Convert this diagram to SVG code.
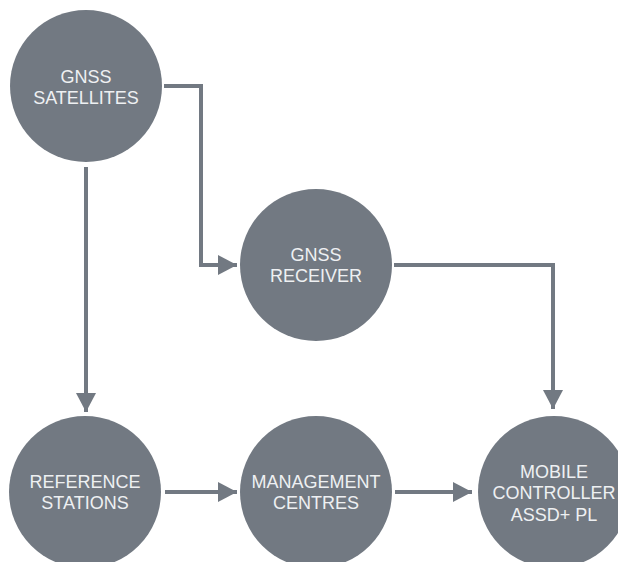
<svg xmlns="http://www.w3.org/2000/svg" width="618" height="562" viewBox="0 0 618 562">
<style>
.node{fill:#727982}
.lbl{fill:#eef0f2;font-family:"Liberation Sans",Arial,sans-serif;font-size:18px;text-anchor:middle}
.conn{fill:none;stroke:#727982;stroke-width:4;stroke-linejoin:miter}
</style>
<defs>
<marker id="arr" markerUnits="userSpaceOnUse" markerWidth="20" markerHeight="20" refX="19" refY="10" orient="auto" viewBox="0 0 20 20">
<path d="M0,0 L19,10 L0,20 z" fill="#727982"/>
</marker>
</defs>
<rect width="618" height="562" fill="#ffffff"/>
<g id="connectors">
<path class="conn" d="M164,86 H201 V265 H237" marker-end="url(#arr)"/>
<path class="conn" d="M86,167 V412" marker-end="url(#arr)"/>
<path class="conn" d="M394,265 H553 V409" marker-end="url(#arr)"/>
<path class="conn" d="M165,492 H237" marker-end="url(#arr)"/>
<path class="conn" d="M395,492 H472" marker-end="url(#arr)"/>
</g>
<g id="gnss-satellites">
<circle class="node" cx="86" cy="86" r="76"/>
<text class="lbl" x="86" y="83">GNSS</text>
<text class="lbl" x="86" y="104">SATELLITES</text>
</g>
<g id="gnss-receiver">
<circle class="node" cx="316" cy="265" r="76"/>
<text class="lbl" x="316" y="261">GNSS</text>
<text class="lbl" x="316" y="282">RECEIVER</text>
</g>
<g id="reference-stations">
<circle class="node" cx="85" cy="492" r="76"/>
<text class="lbl" x="85" y="488">REFERENCE</text>
<text class="lbl" x="85" y="509">STATIONS</text>
</g>
<g id="management-centres">
<circle class="node" cx="316" cy="492" r="76"/>
<text class="lbl" x="316" y="488">MANAGEMENT</text>
<text class="lbl" x="316" y="509">CENTRES</text>
</g>
<g id="mobile-controller">
<circle class="node" cx="554" cy="492" r="76"/>
<text class="lbl" x="554" y="478">MOBILE</text>
<text class="lbl" x="554" y="499">CONTROLLER</text>
<text class="lbl" x="554" y="521">ASSD+ PL</text>
</g>
</svg>
